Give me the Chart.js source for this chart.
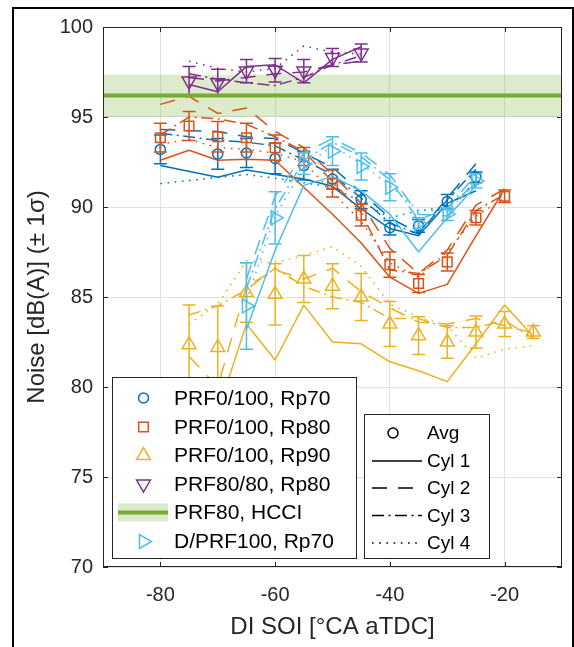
<!DOCTYPE html>
<html><head><meta charset="utf-8">
<script src="https://cdn.jsdelivr.net/npm/chart.js@4.4.1/dist/chart.umd.min.js"></script>
<style>html,body{margin:0;padding:0;background:#fff}#wrap{width:574px;height:647px;position:relative}</style>
</head><body><div id="wrap"><canvas id="c"></canvas></div>
<script>
// ---- axis definitions ----
const soiTicks = [-80, -60, -40, -20];
const noiseTicks = [70, 75, 80, 85, 90, 95, 100];
const xMin = -90, xMax = -10, yMin = 70, yMax = 100;

// ---- PRF0/100, Rp70 (blue circles) ----
const rp70X    = [-80, -70, -65, -60, -55, -50, -45, -40, -35, -30, -25];
const rp70Avg  = [93.2, 92.95, 93.0, 92.7, 92.3, 91.55, 90.4, 88.85, 88.95, 90.3, 91.65];
const rp70Err  = [0.8, 0.85, 0.8, 0.85, 0.8, 0.55, 0.5, 0.4, 0.35, 0.4, 0.3];
const rp70Cyl1 = [92.3, 91.65, 92.05, 91.8, 91.55, 91.15, 89.9, 88.8, 88.4, 90.2, 90.9];
const rp70Cyl2 = [94.3, 94.2, 93.9, 93.8, 93.0, 92.2, 90.8, 89.4, 88.55, 90.5, 92.4];
const rp70Cyl3 = [94.1, 93.7, 93.6, 93.4, 92.6, 91.8, 90.5, 89.1, 88.5, 90.4, 92.1];
const rp70Cyl4 = [91.3, 91.65, 91.8, 91.6, 91.35, 91.1, 90.3, 89.4, 89.8, 90.0, 91.3];

// ---- PRF0/100, Rp80 (orange squares) ----
const rp80X    = [-80, -75, -70, -65, -60, -55, -50, -45, -40, -35, -30, -25, -20];
const rp80Avg  = [93.85, 94.5, 93.9, 93.85, 93.3, 92.8, 91.3, 89.55, 86.8, 85.75, 86.95, 89.4, 90.6];
const rp80Err  = [0.8, 0.8, 0.85, 0.8, 0.7, 0.5, 0.75, 0.6, 0.7, 0.5, 0.5, 0.4, 0.35];
const rp80Cyl1 = [92.6, 93.15, 92.6, 92.65, 92.6, 91.1, 89.6, 88.0, 86.1, 85.2, 85.7, 88.4, 91.0];
const rp80Cyl2 = [95.7, 96.15, 95.2, 95.5, 94.2, 93.3, 91.8, 90.2, 87.7, 86.3, 87.6, 90.1, 91.0];
const rp80Cyl3 = [94.0, 95.0, 94.9, 94.6, 93.9, 93.1, 91.4, 89.7, 86.5, 86.3, 87.3, 89.8, 90.7];
const rp80Cyl4 = [93.5, 93.75, 93.3, 93.2, 93.0, 92.5, 90.8, 89.2, 86.9, 86.1, 87.5, 89.5, 90.5];

// ---- PRF0/100, Rp90 (yellow triangles) ----
const rp90X    = [-75, -70, -65, -60, -55, -50, -45, -40, -35, -30, -25, -20, -15];
const rp90Avg  = [82.35, 82.2, 85.25, 85.15, 86.0, 85.6, 85.0, 83.5, 82.85, 82.5, 83.05, 83.5, 83.05];
const rp90Err  = [2.2, 2.3, 1.65, 1.7, 1.3, 1.25, 1.3, 1.25, 1.05, 0.9, 0.9, 0.7, 0.35];
const rp90Cyl1 = [78.0, 78.6, 83.5, 81.5, 84.55, 82.5, 82.4, 81.4, 80.9, 80.3, 82.4, 84.55, 82.8];
const rp90Cyl2 = [81.7, 80.0, 85.6, 86.5, 86.0, 86.6, 85.3, 84.4, 83.6, 83.5, 83.8, 83.4, 83.0];
const rp90Cyl3 = [84.0, 84.5, 85.4, 86.6, 85.6, 85.0, 84.7, 83.8, 83.8, 83.3, 83.3, 83.7, 82.7];
const rp90Cyl4 = [83.5, 84.6, 87.0, 86.9, 87.3, 87.8, 86.7, 84.6, 83.9, 83.4, 81.6, 82.1, 82.3];

// ---- PRF80/80, Rp80 (purple down triangles) ----
const p80X    = [-75, -70, -65, -60, -55, -50, -45];
const p80Avg  = [97.0, 96.9, 97.55, 97.6, 97.55, 98.3, 98.55];
const p80Err  = [0.8, 0.75, 0.65, 0.65, 0.65, 0.5, 0.5];
const p80Cyl1 = [96.8, 96.4, 97.8, 97.9, 96.9, 98.2, 98.9];
const p80Cyl2 = [97.2, 97.0, 97.2, 97.4, 97.5, 97.9, 98.1];
const p80Cyl3 = [97.4, 97.1, 96.9, 96.75, 97.2, 97.9, 98.4];
const p80Cyl4 = [98.1, 97.7, 97.5, 97.7, 98.95, 98.6, 98.5];

// ---- PRF80, HCCI (green band) ----
const hcciMean = 96.2, hcciLow = 95.0, hcciHigh = 97.35;

// ---- D/PRF100, Rp70 (light blue right triangles) ----
const dX    = [-65, -60, -55, -50, -45, -40, -35, -30, -25];
const dAvg  = [84.5, 89.4, 92.4, 93.1, 92.25, 91.1, 89.1, 89.6, 91.45];
const dErr  = [2.4, 1.45, 0.6, 0.8, 0.75, 0.75, 0.3, 0.35, 0.4];
const dCyl1 = [83.2, 87.6, 91.2, 91.7, 90.9, 89.6, 87.5, 89.4, 91.2];
const dCyl2 = [86.0, 90.6, 93.0, 93.8, 93.0, 91.8, 89.6, 89.5, 91.6];
const dCyl3 = [85.5, 89.9, 92.6, 93.6, 92.8, 91.5, 89.3, 89.9, 91.8];
const dCyl4 = [84.8, 89.5, 92.2, 93.4, 92.4, 91.2, 89.8, 89.8, 91.3];

const seriesNames = ['PRF0/100, Rp70','PRF0/100, Rp80','PRF0/100, Rp90','PRF80/80, Rp80','PRF80, HCCI','D/PRF100, Rp70'];
const cylNames = ['Avg','Cyl 1','Cyl 2','Cyl 3','Cyl 4'];

// ---- styles ----
const FONT = "'Liberation Sans', Arial, Helvetica, sans-serif";
const C_BLUE='#0072BD', C_ORANGE='#D95319', C_YELLOW='#EDB120', C_PURPLE='#7E2F8E', C_GREEN='#77AC30', C_LBLUE='#4DBEEE';
const DASHES = [[], [15, 11], [12, 4.5, 2, 4.5], [1.6, 5.6]];
const LW = 1.5;

const series = [
  {color:C_BLUE,   shape:'circle', rot:0,   r:5,   x:rp70X, avg:rp70Avg, err:rp70Err, cyl:[rp70Cyl1,rp70Cyl2,rp70Cyl3,rp70Cyl4]},
  {color:C_ORANGE, shape:'rect',   rot:0,   r:6.8, x:rp80X, avg:rp80Avg, err:rp80Err, cyl:[rp80Cyl1,rp80Cyl2,rp80Cyl3,rp80Cyl4]},
  {color:C_YELLOW, shape:'triangle', rot:0, r:8,   x:rp90X, avg:rp90Avg, err:rp90Err, cyl:[rp90Cyl1,rp90Cyl2,rp90Cyl3,rp90Cyl4]},
  {color:C_PURPLE, shape:'triangle', rot:180, r:8, x:p80X,  avg:p80Avg,  err:p80Err,  cyl:[p80Cyl1,p80Cyl2,p80Cyl3,p80Cyl4]},
  {hcci:true},
  {color:C_LBLUE,  shape:'triangle', rot:90, r:8,  x:dX,    avg:dAvg,    err:dErr,    cyl:[dCyl1,dCyl2,dCyl3,dCyl4]}
];

const datasets = [];
series.forEach(s => {
  if (s.hcci) {
    datasets.push({data:[{x:xMin,y:hcciMean},{x:xMax,y:hcciMean}], showLine:true, borderColor:C_GREEN, borderWidth:4, pointRadius:0, borderCapStyle:'butt'});
    return;
  }
  s.cyl.forEach((vals, k) => {
    datasets.push({data: s.x.map((xv,i)=>({x:xv, y:vals[i]})), showLine:true, borderColor:s.color, borderWidth:LW,
      borderDash:DASHES[k], pointRadius:0, tension:0, borderJoinStyle:'round'});
  });
  datasets.push({data: s.x.map((xv,i)=>({x:xv, y:s.avg[i]})), showLine:false, pointStyle:s.shape, pointRotation:s.rot,
    pointRadius:s.r, pointBorderColor:s.color, pointBackgroundColor:'rgba(0,0,0,0)', pointBorderWidth:LW,
    errBars:s.err, errColor:s.color});
});
const N = datasets.length;
datasets.forEach((d,i)=>{ d.order = N - i; });

function drawMarker(ctx, shape, rot, r, x, y){
  ctx.beginPath();
  if (shape==='circle') { ctx.arc(x,y,r,0,Math.PI*2); }
  else if (shape==='rect') { const h=r*Math.SQRT1_2; ctx.rect(x-h,y-h,2*h,2*h); }
  else { let a = rot*Math.PI/180; for (let k=0;k<3;k++){ const px=x+Math.sin(a)*r, py=y-Math.cos(a)*r; if(k===0)ctx.moveTo(px,py); else ctx.lineTo(px,py); a+=2*Math.PI/3;} ctx.closePath(); }
  ctx.stroke();
}

const decor = {
  id:'decor',
  beforeDatasetsDraw(chart){
    const {ctx, chartArea:a, scales:{x,y}} = chart;
    ctx.save();
    ctx.fillStyle='rgba(119,172,48,0.25)';
    const y1=y.getPixelForValue(hcciHigh), y2=y.getPixelForValue(hcciLow);
    const x1=x.getPixelForValue(xMin), x2=x.getPixelForValue(xMax);
    ctx.fillRect(x1,y1,x2-x1,y2-y1);
    ctx.restore();
  },
  afterDatasetDraw(chart, args){
    const ds = chart.data.datasets[args.index];
    if (!ds.errBars) return;
    const {ctx, chartArea:a, scales:{x,y}} = chart;
    ctx.save();
    ctx.beginPath(); ctx.rect(a.left,a.top,a.right-a.left,a.bottom-a.top); ctx.clip();
    ctx.strokeStyle = ds.errColor; ctx.lineWidth = LW; ctx.setLineDash([]);
    const cw = 6.5;
    ds.data.forEach((p,i)=>{
      const px=x.getPixelForValue(p.x), t=y.getPixelForValue(p.y+ds.errBars[i]), b=y.getPixelForValue(p.y-ds.errBars[i]);
      ctx.beginPath();
      ctx.moveTo(px,t); ctx.lineTo(px,b);
      ctx.moveTo(px-cw,t); ctx.lineTo(px+cw,t);
      ctx.moveTo(px-cw,b); ctx.lineTo(px+cw,b);
      ctx.stroke();
    });
    ctx.restore();
  },
  afterDraw(chart){
    const {ctx, chartArea:a, scales:{x,y}} = chart;
    ctx.save();
    // axes box and inward ticks
    ctx.strokeStyle='#262626'; ctx.lineWidth=1; ctx.setLineDash([]);
    ctx.strokeRect(a.left+0.5, a.top+0.5, a.right-a.left-1, a.bottom-a.top-1);
    const tl=5;
    ctx.beginPath();
    soiTicks.forEach(v=>{ const px=Math.round(x.getPixelForValue(v))+0.5; ctx.moveTo(px,a.bottom); ctx.lineTo(px,a.bottom-tl); ctx.moveTo(px,a.top); ctx.lineTo(px,a.top+tl); });
    noiseTicks.forEach(v=>{ const py=Math.round(y.getPixelForValue(v))+0.5; ctx.moveTo(a.left,py); ctx.lineTo(a.left+tl,py); ctx.moveTo(a.right,py); ctx.lineTo(a.right-tl,py); });
    ctx.stroke();

    // legend 1
    const L1={x:112.5,y:377.5,w:244,h:181};
    ctx.fillStyle='#fff'; ctx.fillRect(L1.x,L1.y,L1.w,L1.h);
    ctx.strokeStyle='#262626'; ctx.lineWidth=1; ctx.strokeRect(L1.x,L1.y,L1.w,L1.h);
    const rows1=[398,427,455.5,484,512.5,541.5];
    ctx.font='21px '+FONT; ctx.textBaseline='middle'; ctx.textAlign='left';
    series.forEach((s,i)=>{
      const yy=rows1[i];
      if (s.hcci){
        ctx.fillStyle='rgba(119,172,48,0.25)'; ctx.fillRect(118,yy-9,50,18);
        ctx.strokeStyle=C_GREEN; ctx.lineWidth=4; ctx.beginPath(); ctx.moveTo(118,yy); ctx.lineTo(168,yy); ctx.stroke();
      } else {
        ctx.strokeStyle=s.color; ctx.lineWidth=LW; drawMarker(ctx,s.shape,s.rot,s.r,143.5,yy);
      }
      ctx.fillStyle='#000'; ctx.fillText(seriesNames[i],174,yy+1);
    });

    // legend 2
    const L2={x:364.5,y:414.5,w:125,h:144};
    ctx.fillStyle='#fff'; ctx.fillRect(L2.x,L2.y,L2.w,L2.h);
    ctx.strokeStyle='#262626'; ctx.lineWidth=1; ctx.strokeRect(L2.x,L2.y,L2.w,L2.h);
    const rows2=[433,461,488,515.5,543];
    ctx.font='19px '+FONT;
    cylNames.forEach((nm,i)=>{
      const yy=rows2[i];
      ctx.strokeStyle='#000'; ctx.lineWidth=LW;
      if (i===0){ drawMarker(ctx,'circle',0,5,393,yy); }
      else { ctx.setLineDash(DASHES[i-1]); ctx.beginPath(); ctx.moveTo(372,yy); ctx.lineTo(422,yy); ctx.stroke(); ctx.setLineDash([]); }
      ctx.fillStyle='#000'; ctx.fillText(nm,427,yy+1);
    });

    // outer frame
    ctx.strokeStyle='#000'; ctx.lineWidth=2;
    ctx.strokeRect(13,8,560,680);
    ctx.restore();
  }
};

new Chart(document.getElementById('c'), {
  type:'scatter',
  data:{datasets},
  options:{
    responsive:true, maintainAspectRatio:false, animation:false, devicePixelRatio:1, events:[],
    layout:{padding:{left:0,right:12,top:27,bottom:0}},
    plugins:{legend:{display:false}, tooltip:{enabled:false}},
    scales:{
      x:{type:'linear', min:xMin, max:xMax,
        afterBuildTicks:s=>{ s.ticks=soiTicks.map(v=>({value:v})); },
        afterFit:s=>{ s.height=80; },
        grid:{color:'#e0e0e0', lineWidth:1, drawTicks:false}, border:{display:false},
        ticks:{padding:16, color:'#262626', font:{family:FONT,size:20}, autoSkip:false, maxRotation:0, callback:v=>String(v)},
        title:{display:true, text:'DI SOI [°CA aTDC]', color:'#262626', font:{family:FONT,size:24}, padding:{top:0,bottom:5.6}}},
      y:{type:'linear', min:yMin, max:yMax,
        afterBuildTicks:s=>{ s.ticks=noiseTicks.map(v=>({value:v})); },
        afterFit:s=>{ s.width=103; },
        grid:{color:'#e0e0e0', lineWidth:1, drawTicks:false}, border:{display:false},
        ticks:{padding:10, color:'#262626', font:{family:FONT,size:20}, autoSkip:false, callback:v=>String(v)},
        title:{display:true, text:'Noise [dB(A)] (± 1σ)', color:'#262626', font:{family:FONT,size:24}, padding:{top:22.6,bottom:0}}}
    }
  },
  plugins:[decor]
});
</script>
</body></html>
